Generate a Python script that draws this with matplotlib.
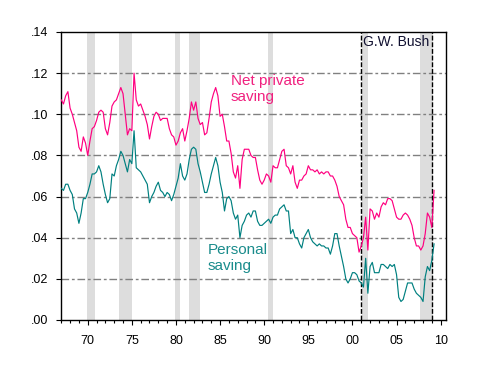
import matplotlib
matplotlib.use("Agg")
import matplotlib.pyplot as plt
import numpy as np

plt.rcParams['font.family'] = ['Liberation Sans', 'DejaVu Sans']

start_year = 1967
net_private_saving = [
    0.107, 0.105, 0.109, 0.111,  # 1967
    0.103, 0.100, 0.096, 0.092,  # 1968
    0.084, 0.082, 0.089, 0.086,  # 1969
    0.080, 0.087, 0.093, 0.094,  # 1970
    0.097, 0.101, 0.102, 0.101,  # 1971
    0.093, 0.090, 0.096, 0.104,  # 1972
    0.106, 0.107, 0.110, 0.113,  # 1973
    0.110, 0.100, 0.090, 0.093,  # 1974
    0.092, 0.120, 0.107, 0.104,  # 1975
    0.105, 0.102, 0.099, 0.095,  # 1976
    0.088, 0.094, 0.099, 0.101,  # 1977
    0.100, 0.097, 0.098, 0.098,  # 1978
    0.098, 0.093, 0.090, 0.089,  # 1979
    0.085, 0.087, 0.091, 0.093,  # 1980
    0.087, 0.092, 0.098, 0.106,  # 1981
    0.102, 0.106, 0.098, 0.095,  # 1982
    0.096, 0.090, 0.091, 0.098,  # 1983
    0.106, 0.110, 0.113, 0.109,  # 1984
    0.099, 0.100, 0.094, 0.087,  # 1985
    0.087, 0.081, 0.072, 0.069,  # 1986
    0.075, 0.064, 0.078, 0.083,  # 1987
    0.083, 0.083, 0.080, 0.079,  # 1988
    0.079, 0.073, 0.068, 0.066,  # 1989
    0.068, 0.071, 0.070, 0.067,  # 1990
    0.075, 0.074, 0.074, 0.078,  # 1991
    0.082, 0.083, 0.075, 0.074,  # 1992
    0.071, 0.075, 0.067, 0.064,  # 1993
    0.068, 0.068, 0.070, 0.071,  # 1994
    0.075, 0.073, 0.073, 0.072,  # 1995
    0.073, 0.071, 0.072, 0.071,  # 1996
    0.072, 0.072, 0.070, 0.070,  # 1997
    0.068, 0.065, 0.060, 0.058,  # 1998
    0.056, 0.049, 0.045, 0.045,  # 1999
    0.042, 0.041, 0.040, 0.033,  # 2000
    0.036, 0.040, 0.050, 0.034,  # 2001
    0.054, 0.053, 0.049, 0.052,  # 2002
    0.050, 0.055, 0.057, 0.056,  # 2003
    0.059, 0.059, 0.058, 0.054,  # 2004
    0.050, 0.049, 0.049, 0.051,  # 2005
    0.052, 0.051, 0.049, 0.046,  # 2006
    0.040, 0.036, 0.036, 0.034,  # 2007
    0.036, 0.042, 0.052, 0.050,  # 2008
    0.045, 0.063,                # 2009
]
personal_saving = [
    0.064, 0.063, 0.066, 0.066,  # 1967
    0.063, 0.061, 0.054, 0.052,  # 1968
    0.047, 0.052, 0.059, 0.059,  # 1969
    0.062, 0.066, 0.071, 0.071,  # 1970
    0.072, 0.075, 0.072, 0.066,  # 1971
    0.061, 0.057, 0.059, 0.071,  # 1972
    0.070, 0.075, 0.078, 0.082,  # 1973
    0.080, 0.076, 0.072, 0.078,  # 1974
    0.076, 0.092, 0.074, 0.073,  # 1975
    0.072, 0.070, 0.068, 0.066,  # 1976
    0.057, 0.060, 0.062, 0.065,  # 1977
    0.067, 0.063, 0.062, 0.060,  # 1978
    0.062, 0.061, 0.058, 0.061,  # 1979
    0.065, 0.069, 0.076, 0.070,  # 1980
    0.068, 0.071, 0.078, 0.083,  # 1981
    0.084, 0.083, 0.076, 0.072,  # 1982
    0.067, 0.062, 0.062, 0.066,  # 1983
    0.071, 0.075, 0.079, 0.075,  # 1984
    0.067, 0.062, 0.053, 0.059,  # 1985
    0.060, 0.058, 0.052, 0.049,  # 1986
    0.051, 0.040, 0.046, 0.048,  # 1987
    0.051, 0.052, 0.050, 0.053,  # 1988
    0.053, 0.048, 0.046, 0.046,  # 1989
    0.047, 0.048, 0.049, 0.047,  # 1990
    0.050, 0.051, 0.051, 0.054,  # 1991
    0.055, 0.056, 0.053, 0.053,  # 1992
    0.042, 0.044, 0.040, 0.040,  # 1993
    0.037, 0.035, 0.040, 0.042,  # 1994
    0.044, 0.040, 0.038, 0.037,  # 1995
    0.036, 0.037, 0.036, 0.036,  # 1996
    0.035, 0.035, 0.032, 0.036,  # 1997
    0.042, 0.042, 0.036, 0.031,  # 1998
    0.026, 0.020, 0.018, 0.020,  # 1999
    0.023, 0.023, 0.022, 0.019,  # 2000
    0.018, 0.016, 0.030, 0.013,  # 2001
    0.026, 0.028, 0.023, 0.023,  # 2002
    0.023, 0.027, 0.027, 0.026,  # 2003
    0.025, 0.027, 0.026, 0.027,  # 2004
    0.022, 0.011, 0.009, 0.010,  # 2005
    0.014, 0.018, 0.018, 0.018,  # 2006
    0.015, 0.013, 0.012, 0.011,  # 2007
    0.009, 0.021, 0.026, 0.024,  # 2008
    0.029, 0.037,                # 2009
]
recession_starts = [1969.89, 1973.55, 1979.89, 1981.48, 1990.43, 2001.05, 2007.65]
recession_ends = [1970.79, 1974.99, 1980.46, 1982.72, 1990.96, 2001.73, 2009.13]
bush_term = [2001.0, 2009.0]
x_tick_years = [1970, 1975, 1980, 1985, 1990, 1995, 2000, 2005, 2010]
x_tick_labels = ["70", "75", "80", "85", "90", "95", "00", "05", "10"]
y_ticks = [0.00, 0.02, 0.04, 0.06, 0.08, 0.10, 0.12, 0.14]
y_tick_labels = [".00", ".02", ".04", ".06", ".08", ".10", ".12", ".14"]

dates = start_year + np.arange(len(net_private_saving)) / 4.0

MAGENTA = "#FF0080"
TEAL = "#008080"

fig = plt.figure(figsize=(4.81, 3.71), dpi=100)
ax = fig.add_axes([61/481, 51/371, (445.7-61)/481, (320-32)/371])

for s, e in zip(recession_starts, recession_ends):
    ax.axvspan(s, e, color="#DDDDDD", lw=0, zorder=0)

for yv in y_ticks[1:-1]:
    ax.axhline(yv, color="#808080", lw=1.0, dashes=(5.5, 2.0, 2.0, 2.0), zorder=1)

for xv in bush_term:
    ax.axvline(xv, color="black", lw=1.0, dashes=(3.5, 1.3), zorder=3)

ax.plot(dates, net_private_saving, color=MAGENTA, lw=0.85, zorder=4)
ax.plot(dates, personal_saving, color=TEAL, lw=0.85, zorder=4)

ax.set_xlim(1966.97, 2010.57)
ax.set_ylim(0, 0.14)
ax.set_yticks(y_ticks)
ax.set_yticklabels(y_tick_labels)
ax.set_xticks(x_tick_years)
ax.set_xticklabels(x_tick_labels)
ax.set_xticks(np.arange(1967, 2011), minor=True)
ax.tick_params(axis="both", which="major", direction="out", length=3.5, width=0.8,
               labelsize=9, colors="black")
ax.tick_params(axis="x", which="minor", direction="out", length=2, width=0.8)
ax.tick_params(axis="y", which="minor", left=False)
ax.tick_params(axis="x", which="major", pad=7)
ax.tick_params(axis="y", which="major", pad=6)
for sp in ax.spines.values():
    sp.set_color("black")
    sp.set_linewidth(1.0)

ax.text(2001.25, 0.1385, "G.W. Bush", fontsize=10, color="#101030", va="top", ha="left", zorder=5)
ax.text(1986.2, 0.1195, "Net private\nsaving", fontsize=11, color="#F0207F",
        va="top", ha="left", linespacing=1.15, zorder=5)
ax.text(1983.6, 0.0375, "Personal\nsaving", fontsize=11, color="#1A8C8C",
        va="top", ha="left", linespacing=1.15, zorder=5)

fig.savefig("out.png", dpi=100)
